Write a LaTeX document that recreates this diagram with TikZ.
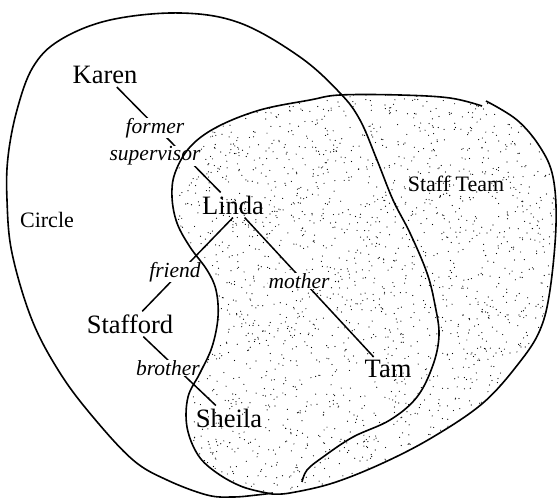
\documentclass[tikz,border=0pt]{standalone}
\usepackage{fontspec}
\setmainfont{Liberation Serif}
\usetikzlibrary{positioning}
\pgfdeclarelayer{background}
\pgfsetlayers{background,main}

\begin{document}
\begin{tikzpicture}[x=1pt, y=-1pt,
    person/.style={font=\fontsize{26.5}{30}\selectfont, inner sep=3pt},
    relation/.style={font=\fontsize{21.5}{24}\selectfont\itshape, fill=white, inner sep=0.6pt},
    setlabel/.style={font=\fontsize{22}{26}\selectfont},
    outline/.style={line width=1.6pt, line join=round},
    tie/.style={line width=1.5pt}]
    \useasboundingbox (0,0) rectangle (557,502);

    % People
    \node[person] (karen) at (105,75) {Karen};
    \node[person] (linda) at (233,205) {Linda};
    \node[person] (stafford) at (130,324) {Stafford};
    \node[person] (sheila) at (229,418) {Sheila};
    \node[person] (tam) at (388,369) {Tam};

    % Relations
    \node[relation] (former) at (155,128) {former};
    \node[relation] (supervisor) at (155,156) {supervisor};
    \node[relation] (friend) at (175,272) {friend};
    \node[relation] (mother) at (299,281) {mother};
    \node[relation] (brother) at (168,368) {brother};

    % Set names
    \node[setlabel] (circlename) at (47,220) {Circle};
    \node[setlabel] (staffname) at (456,184) {Staff Team};

    % Staff Team region (two smooth halves meeting at the bottom)
    \def\staffpath{plot[smooth, tension=0.6] coordinates {(486,101) (517,120) (540,147) (553,177) (556,225)
        (550,290) (540,330) (519,363) (483,403) (433,437) (383,463) (333,483) (290,493) (272,494)}
        -- plot[smooth, tension=0.6] coordinates {(272,494) (243,487) (217,473) (198,455) (187,427)
        (188,397) (200,373) (212,347) (218,317) (216,290) (207,270) (190,247) (177,223) (172,197)
        (175,173) (190,147) (217,127) (260,110) (310,100) (340,95) (400,95) (450,98) (482,106)}}

    \begin{pgfonlayer}{background}
        % stipple
        \begin{scope}
            \clip \staffpath -- cycle;
            \pgfmathsetseed{17}
            \foreach \i in {1,...,2400}
                \fill ({170+387*rnd},{93+404*rnd}) circle[radius=0.6pt];
        \end{scope}
        % Ties
        \draw[tie] (karen) -- (linda);
        \draw[tie] (linda.south) -- (stafford);
        \draw[tie] (linda) -- (tam.140);
        \draw[tie] (stafford) -- (sheila);
    \end{pgfonlayer}

    % Outlines
    \draw[outline] \staffpath;
    \draw[outline] plot[smooth, tension=0.6] coordinates {(302,482) (307,470) (323,457) (353,437)
        (390,420) (417,397) (433,365) (439,335) (435,305) (427,273) (410,233) (393,200) (377,160)
        (360,120) (340,93) (300,57) (240,23) (180,13) (110,20) (60,40) (33,67) (17,110) (8,157)
        (7,200) (12,253) (32,320) (60,373) (93,417) (133,460) (167,480) (207,495) (233,497)
        (257,495) (273,493)};
\end{tikzpicture}
\end{document}
